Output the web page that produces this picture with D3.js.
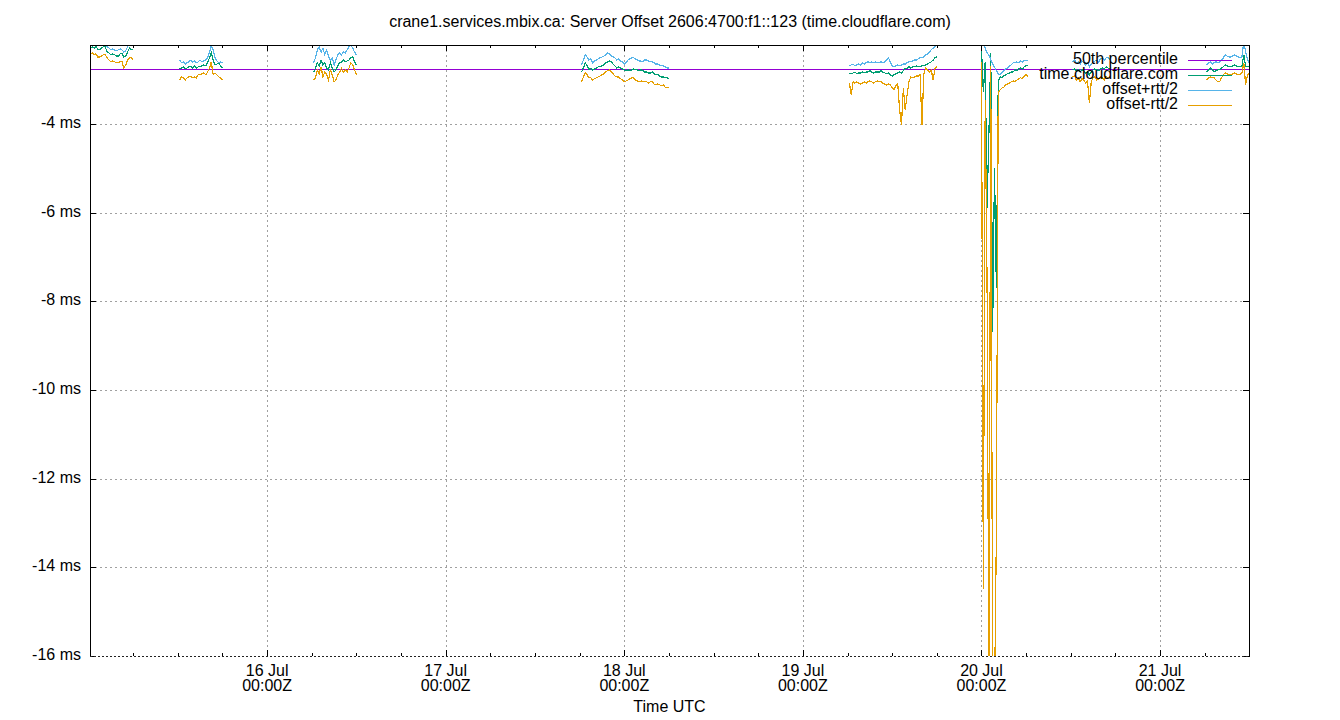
<!DOCTYPE html>
<html><head><meta charset="utf-8">
<script src="https://cdn.jsdelivr.net/npm/d3@7"></script>
<style>
body{margin:0;background:#fff}
svg{display:block}
text{font-family:"Liberation Sans",Arial,sans-serif;fill:#000}
</style>
</head><body>
<svg id="chart" width="1340" height="720"></svg>
<script>
// ---------------- data ----------------
const chartTitle = "crane1.services.mbix.ca: Server Offset 2606:4700:f1::123 (time.cloudflare.com)";
const xAxisTitle = "Time UTC";
const seriesNames = ["50th percentile", "time.cloudflare.com", "offset+rtt/2", "offset-rtt/2"];
const seriesColors = ["#9400d3", "#009e73", "#56b4e9", "#e69f00"];
const percentileMs = -2.76;
const yTickValues = [-4, -6, -8, -10, -12, -14, -16];
const xDomainIso = ["2024-07-15T00:12:00Z", "2024-07-21T11:57:00Z"];
const yDomainMs = [-16, -2.22];
const stepMinutes = 15;
const segmentStart = [
  "2024-07-15T00:15:00Z", "2024-07-15T12:15:00Z", "2024-07-16T06:15:00Z", "2024-07-17T18:15:00Z",
  "2024-07-19T06:15:00Z", "2024-07-20T00:00:00Z", "2024-07-20T12:15:00Z", "2024-07-21T06:15:00Z"
];
// offset (time.cloudflare.com), ms
const offsetMs = [
  [-2.29,-2.26,-2.29,-2.26,-2.31,-2.33,-2.29,-2.26,-2.26,-2.38,-2.40,-2.44,-2.42,-2.44,-2.47,-2.47,-2.42,-2.40,-2.49,-2.47,-2.38,-2.29,-2.33,-2.33],
  [-2.76,-2.74,-2.71,-2.76,-2.74,-2.71,-2.71,-2.74,-2.69,-2.74,-2.71,-2.71,-2.69,-2.67,-2.69,-2.62,-2.51,-2.40,-2.56,-2.67,-2.65,-2.62,-2.69,-2.74],
  [-2.83,-2.74,-2.62,-2.69,-2.56,-2.67,-2.62,-2.74,-2.78,-2.62,-2.74,-2.83,-2.78,-2.69,-2.62,-2.60,-2.56,-2.60,-2.58,-2.56,-2.51,-2.49,-2.60,-2.67],
  [-2.83,-2.74,-2.62,-2.69,-2.78,-2.74,-2.78,-2.76,-2.74,-2.71,-2.71,-2.69,-2.67,-2.62,-2.60,-2.58,-2.60,-2.65,-2.69,-2.74,
   -2.71,-2.74,-2.76,-2.78,-2.80,-2.78,-2.80,-2.78,-2.76,-2.78,-2.78,-2.80,-2.78,-2.80,-2.83,-2.83,-2.85,-2.85,-2.83,-2.87,
   -2.89,-2.89,-2.92,-2.94,-2.94,-2.96,-2.96,-2.98],
  [-2.85,-2.87,-2.85,-2.83,-2.87,-2.85,-2.85,-2.83,-2.85,-2.83,-2.83,-2.80,-2.83,-2.85,-2.83,-2.83,-2.83,-2.80,-2.83,-2.85,
   -2.87,-2.85,-2.89,-2.92,-2.89,-2.87,-2.85,-2.83,-2.85,-2.80,-2.74,-2.76,-2.71,-2.74,-2.71,-2.71,-2.69,-2.71,-2.71,-2.69,
   -2.69,-2.67,-2.65,-2.62,-2.60,-2.56,-2.51,-2.49],
  [-2.30,-3.28,-2.60,-5.90,-4.20,-2.40,-8.70,-5.00,-7.70,-3.05,-2.94,-2.96,-2.92,-2.89,-2.87,-2.85,-2.83,-2.83,-2.78,-2.80,-2.76,-2.74,-2.76,-2.71,-2.69,-2.67],
  [-2.78,-2.76,-2.80,-2.78,-2.83,-2.78,-2.80,-2.85,-2.83,-2.89,-2.83,-2.78,-2.76,-2.78,-2.80,-2.76,-2.74,-2.76,-2.71,-2.74,-2.76],
  [-2.83,-2.78,-2.74,-2.78,-2.83,-2.80,-2.78,-2.78,-2.74,-2.71,-2.67,-2.69,-2.71,-2.71,-2.69,-2.67,-2.69,-2.71,-2.71,-2.69,-2.44,-2.71,-2.71,-2.71]
];
// offset+rtt/2, ms
const plusMs = [
  [-2.20,-2.17,-2.22,-2.15,-2.22,-2.24,-2.20,-2.15,-2.17,-2.26,-2.29,-2.33,-2.31,-2.33,-2.35,-2.33,-2.31,-2.33,-2.38,-2.35,-2.26,-2.20,-2.24,-2.24],
  [-2.56,-2.62,-2.60,-2.65,-2.62,-2.60,-2.56,-2.60,-2.58,-2.62,-2.60,-2.56,-2.60,-2.58,-2.56,-2.51,-2.38,-2.24,-2.33,-2.51,-2.58,-2.62,-2.60,-2.62],
  [-2.62,-2.51,-2.33,-2.26,-2.38,-2.29,-2.44,-2.33,-2.47,-2.56,-2.51,-2.67,-2.56,-2.44,-2.40,-2.44,-2.38,-2.40,-2.33,-2.26,-2.22,-2.29,-2.38,-2.44],
  [-2.67,-2.56,-2.44,-2.49,-2.56,-2.53,-2.62,-2.58,-2.56,-2.53,-2.51,-2.49,-2.47,-2.44,-2.40,-2.42,-2.47,-2.49,-2.51,-2.56,
   -2.53,-2.58,-2.60,-2.65,-2.62,-2.56,-2.53,-2.51,-2.51,-2.53,-2.56,-2.58,-2.58,-2.60,-2.56,-2.56,-2.58,-2.60,-2.60,-2.62,
   -2.65,-2.65,-2.67,-2.69,-2.69,-2.71,-2.74,-2.74],
  [-2.69,-2.67,-2.65,-2.69,-2.67,-2.65,-2.67,-2.62,-2.65,-2.62,-2.60,-2.62,-2.60,-2.62,-2.60,-2.62,-2.62,-2.60,-2.62,-2.60,
   -2.56,-2.51,-2.60,-2.69,-2.71,-2.69,-2.67,-2.69,-2.67,-2.65,-2.65,-2.62,-2.60,-2.60,-2.58,-2.56,-2.56,-2.53,-2.51,-2.51,
   -2.49,-2.44,-2.42,-2.38,-2.33,-2.29,-2.26,-2.22],
  [-2.10,-2.15,-2.30,-2.40,-2.45,-2.55,-2.65,-2.72,-2.80,-2.87,-2.89,-2.85,-2.80,-2.76,-2.74,-2.69,-2.67,-2.62,-2.62,-2.60,-2.62,-2.58,-2.60,-2.56,-2.58,-2.56],
  [-2.60,-2.56,-2.62,-2.60,-2.65,-2.58,-2.62,-2.67,-2.62,-2.71,-2.65,-2.60,-2.58,-2.56,-2.60,-2.53,-2.51,-2.56,-2.51,-2.49,-2.56],
  [-2.67,-2.62,-2.60,-2.65,-2.62,-2.60,-2.62,-2.60,-2.56,-2.51,-2.44,-2.47,-2.49,-2.49,-2.47,-2.44,-2.47,-2.49,-2.51,-2.49,-2.15,-2.38,-2.56,-2.62]
];
// offset-rtt/2, ms
const minusMs = [
  [-2.44,-2.40,-2.44,-2.42,-2.49,-2.49,-2.47,-2.44,-2.44,-2.51,-2.56,-2.60,-2.58,-2.60,-2.62,-2.62,-2.60,-2.60,-2.74,-2.67,-2.56,-2.51,-2.51,-2.56],
  [-3.01,-2.94,-2.96,-3.01,-2.96,-2.94,-2.92,-2.96,-2.94,-2.96,-2.89,-2.89,-2.87,-2.85,-2.89,-2.83,-2.74,-2.60,-2.89,-2.85,-2.89,-2.94,-2.96,-3.01],
  [-3.01,-2.96,-2.78,-2.87,-2.71,-2.94,-2.83,-2.89,-3.01,-2.78,-2.89,-3.05,-3.01,-2.89,-2.83,-2.74,-2.83,-2.78,-2.83,-2.74,-2.62,-2.67,-2.78,-2.89],
  [-3.05,-2.94,-2.85,-2.89,-2.96,-2.96,-3.01,-2.98,-2.96,-2.94,-2.92,-2.89,-2.87,-2.83,-2.80,-2.78,-2.83,-2.87,-2.92,-2.94,
   -2.94,-2.98,-3.01,-3.05,-3.03,-3.01,-2.98,-2.96,-2.96,-3.01,-3.03,-3.05,-3.03,-3.05,-3.05,-3.05,-3.08,-3.05,-3.05,-3.10,
   -3.12,-3.10,-3.12,-3.14,-3.12,-3.17,-3.17,-3.19],
  [-3.08,-3.35,-3.05,-3.08,-3.05,-3.08,-3.10,-3.08,-3.05,-3.08,-3.05,-3.03,-3.05,-3.08,-3.05,-3.03,-3.05,-3.05,-3.08,-3.10,
   -3.12,-3.10,-3.12,-3.19,-3.23,-3.14,-3.10,-3.69,-4.02,-3.19,-3.69,-3.35,-3.05,-2.94,-2.96,-2.94,-2.92,-2.92,-2.89,-4.02,
   -2.87,-2.74,-2.78,-2.83,-2.78,-3.01,-2.74,-2.71],
  [-2.60,-14.50,-3.46,-7.56,-17.00,-2.70,-17.00,-17.00,-13.30,-3.30,-3.23,-3.19,-3.17,-3.12,-3.10,-3.08,-3.05,-3.03,-3.05,-3.01,-2.98,-2.96,-2.98,-2.92,-2.89,-2.94],
  [-2.94,-2.92,-3.01,-2.96,-3.05,-2.98,-3.01,-3.08,-3.03,-3.53,-3.05,-2.96,-2.94,-3.01,-2.98,-2.94,-2.96,-3.01,-2.92,-2.96,-2.94],
  [-3.01,-2.96,-2.94,-2.96,-2.96,-3.01,-3.05,-3.05,-2.96,-2.89,-2.85,-2.87,-2.89,-2.89,-2.87,-2.85,-2.87,-2.89,-2.89,-2.85,-2.62,-3.12,-2.89,-2.85]
];

// ---------------- layout ----------------
const W = 1340, H = 720;
const plot = {left: 90, right: 1249, top: 45, bottom: 656};
const svg = d3.select("#chart");

const x = d3.scaleUtc().domain(xDomainIso.map(s => new Date(s))).range([plot.left, plot.right]);
const y = d3.scaleLinear().domain(yDomainMs).range([plot.bottom, plot.top]);

const days = d3.utcDay.range(x.domain()[0], x.domain()[1]).filter(d => d > x.domain()[0]);
const sixHours = d3.utcHour.every(6).range(x.domain()[0], x.domain()[1]).filter(d => d.getUTCHours() !== 0);

svg.append("defs").append("clipPath").attr("id", "clip")
  .append("rect").attr("x", plot.left).attr("y", plot.top)
  .attr("width", plot.right - plot.left + 1).attr("height", plot.bottom - plot.top);

// grid
const grid = svg.append("g").attr("shape-rendering", "crispEdges")
  .attr("stroke", "#a0a0a0").attr("stroke-width", 1).attr("stroke-dasharray", "2,3");
grid.selectAll("line.gx").data(days).join("line")
  .attr("x1", d => Math.round(x(d)) + 0.5).attr("x2", d => Math.round(x(d)) + 0.5)
  .attr("y1", plot.top).attr("y2", plot.bottom);
grid.selectAll("line.gy").data(yTickValues.filter(v => v !== yDomainMs[0])).join("line")
  .attr("x1", plot.left).attr("x2", plot.right)
  .attr("y1", d => Math.round(y(d)) + 0.5).attr("y2", d => Math.round(y(d)) + 0.5);

// series
const toPoints = (arr) => arr.map((seg, si) => {
  const t0 = new Date(segmentStart[si]).getTime();
  return seg.map((v, i) => ({t: new Date(t0 + i * stepMinutes * 60000), v}));
});
const line = d3.line().x(d => x(d.t)).y(d => y(d.v));
const dataG = svg.append("g").attr("clip-path", "url(#clip)");

// percentile
dataG.append("line").attr("x1", plot.left).attr("x2", plot.right)
  .attr("y1", Math.round(y(percentileMs)) + 0.5).attr("y2", Math.round(y(percentileMs)) + 0.5)
  .attr("stroke", seriesColors[0]).attr("stroke-width", 1).attr("shape-rendering", "crispEdges");

[offsetMs, plusMs, minusMs].forEach((arr, k) => {
  dataG.append("g").attr("shape-rendering", "crispEdges")
    .selectAll("path").data(toPoints(arr)).join("path")
    .attr("d", line).attr("fill", "none")
    .attr("stroke", seriesColors[k + 1]).attr("stroke-width", 1.2);
});

// axes
const axG = svg.append("g").attr("shape-rendering", "crispEdges");
function styleAxis(g) { g.select(".domain").remove(); g.selectAll("line").attr("stroke", "#000"); }
axG.append("g").attr("transform", `translate(0,${plot.bottom})`)
  .call(d3.axisBottom(x).tickValues(days).tickSizeInner(-6).tickSizeOuter(0).tickFormat(""))
  .call(styleAxis);
axG.append("g").attr("transform", `translate(0,${plot.bottom})`)
  .call(d3.axisBottom(x).tickValues(sixHours).tickSizeInner(-3).tickSizeOuter(0).tickFormat(""))
  .call(styleAxis);
axG.append("g").attr("transform", `translate(0,${plot.top})`)
  .call(d3.axisTop(x).tickValues(days).tickSizeInner(-6).tickSizeOuter(0).tickFormat(""))
  .call(styleAxis);
axG.append("g").attr("transform", `translate(0,${plot.top})`)
  .call(d3.axisTop(x).tickValues(sixHours).tickSizeInner(-3).tickSizeOuter(0).tickFormat(""))
  .call(styleAxis);
const leftAx = axG.append("g").attr("transform", `translate(${plot.left},0)`)
  .call(d3.axisLeft(y).tickValues(yTickValues).tickSizeInner(-6).tickSizeOuter(0).tickPadding(9)
    .tickFormat(d => d + " ms"))
  .call(styleAxis);
leftAx.selectAll("text").attr("font-size", 16).attr("font-family", '"Liberation Sans", Arial, sans-serif')
  .attr("fill", "#000").attr("dy", "0.22em");
axG.append("g").attr("transform", `translate(${plot.right},0)`)
  .call(d3.axisRight(y).tickValues(yTickValues).tickSizeInner(-6).tickSizeOuter(0).tickFormat(""))
  .call(styleAxis);

// border
const border = svg.append("g").attr("shape-rendering", "crispEdges").attr("stroke", "#000").attr("fill", "none");
border.append("line").attr("x1", plot.left + 0.5).attr("x2", plot.left + 0.5).attr("y1", plot.top).attr("y2", plot.bottom + 1);
border.append("line").attr("x1", plot.right + 0.5).attr("x2", plot.right + 0.5).attr("y1", plot.top).attr("y2", plot.bottom + 1);
border.append("line").attr("x1", plot.left).attr("x2", plot.right + 1).attr("y1", plot.top + 0.5).attr("y2", plot.top + 0.5);
border.append("line").attr("x1", plot.left).attr("x2", plot.right + 1).attr("y1", plot.bottom + 0.5).attr("y2", plot.bottom + 0.5)
  .attr("stroke", "#222").attr("stroke-dasharray", "2,2");

// x tick labels
const fmtDay = d3.utcFormat("%-d %b");
const fmtTime = d3.utcFormat("%H:%MZ");
const xl = svg.append("g").attr("font-size", 16).attr("text-anchor", "middle");
days.forEach(d => {
  const t = xl.append("text").attr("x", x(d)).attr("y", 675.5);
  t.append("tspan").attr("x", x(d)).text(fmtDay(d));
  t.append("tspan").attr("x", x(d)).attr("dy", 15).text(fmtTime(d));
});

// titles
svg.append("text").attr("x", W / 2).attr("y", 26.5).attr("text-anchor", "middle")
  .attr("font-size", 16).text(chartTitle);
svg.append("text").attr("x", (plot.left + plot.right) / 2).attr("y", 712)
  .attr("text-anchor", "middle").attr("font-size", 16).text(xAxisTitle);

// legend
const lg = svg.append("g");
seriesNames.forEach((name, i) => {
  const cy = 60 + i * 15;
  lg.append("line").attr("x1", 1188).attr("x2", 1232).attr("y1", cy + 0.5).attr("y2", cy + 0.5)
    .attr("stroke", seriesColors[i]).attr("stroke-width", 1).attr("shape-rendering", "crispEdges");
  lg.append("text").attr("x", 1178).attr("y", cy + 3.5).attr("text-anchor", "end")
    .attr("font-size", 16).text(name);
});
</script>
</body></html>
